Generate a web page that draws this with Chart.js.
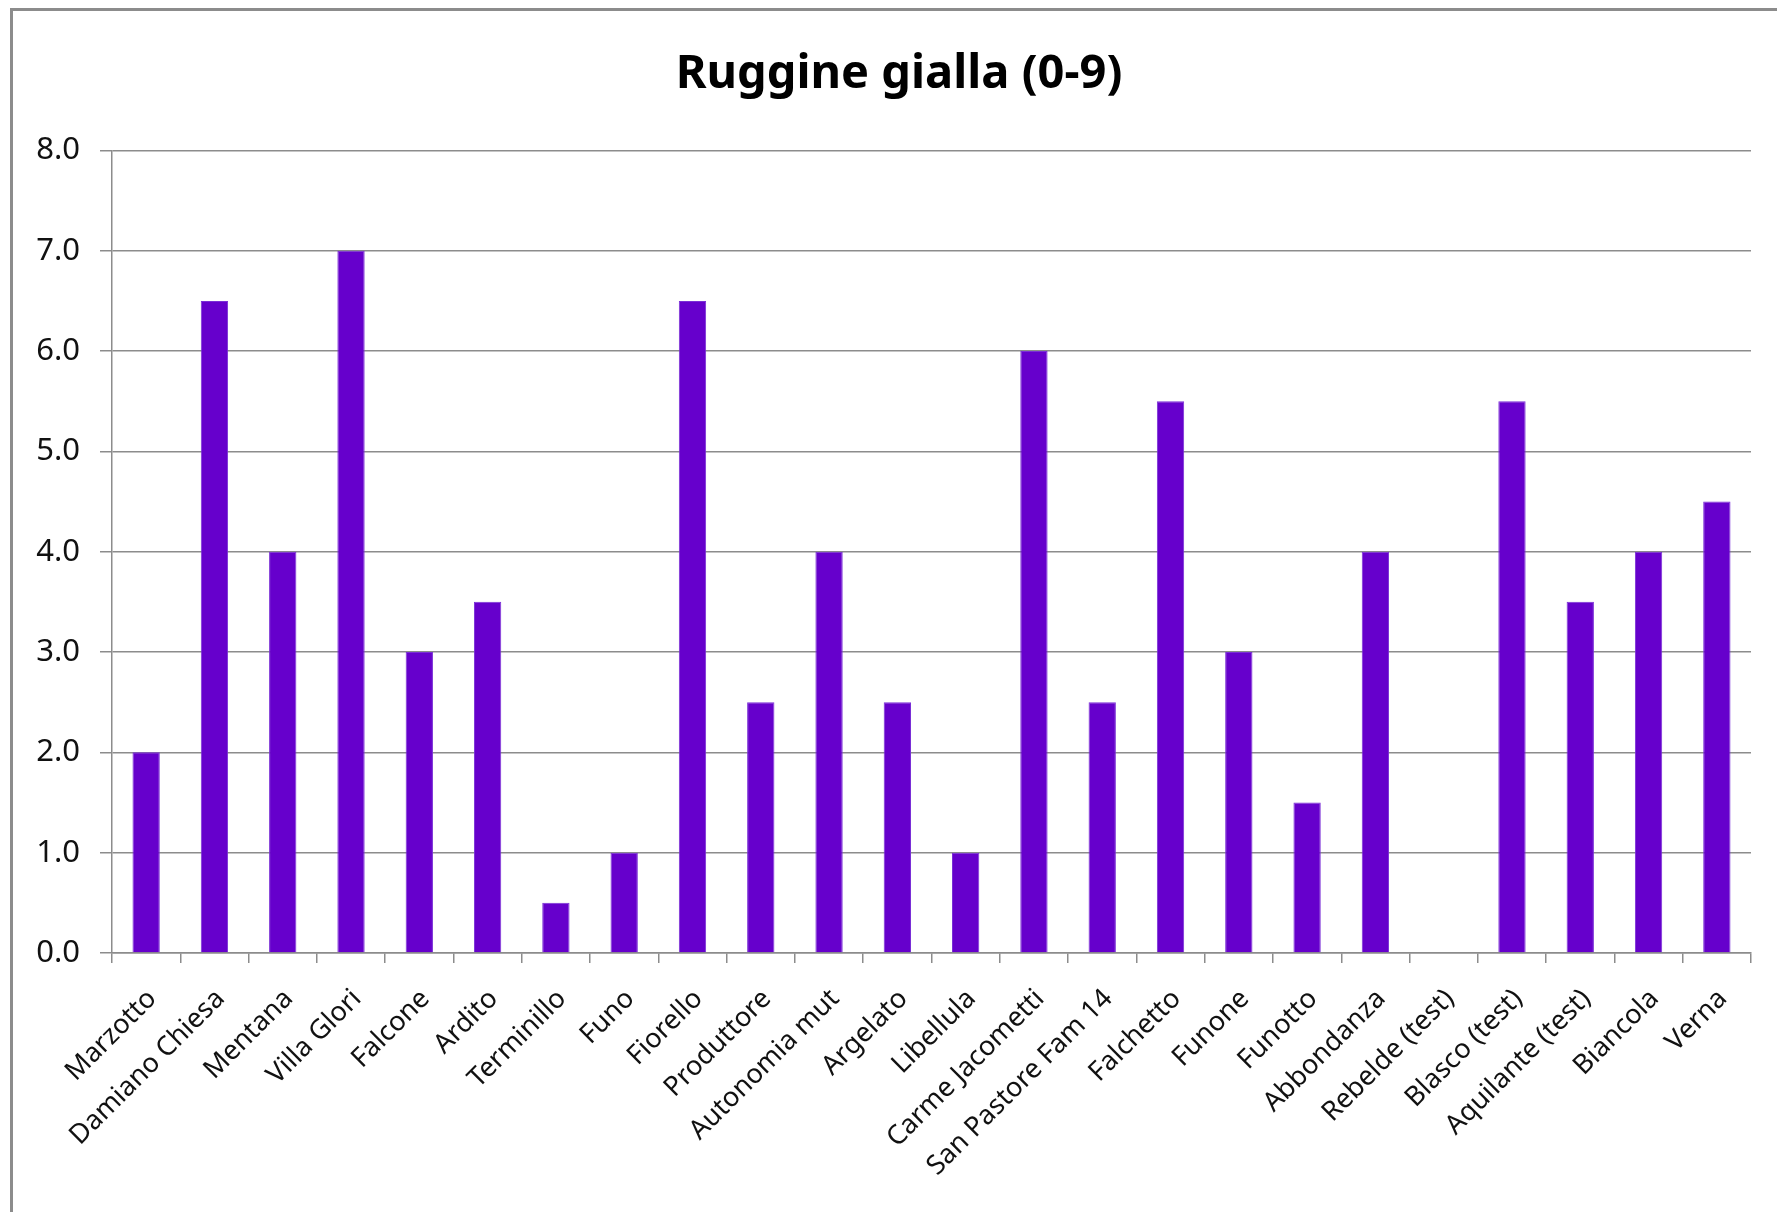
<!DOCTYPE html>
<html>
<head>
<meta charset="utf-8">
<script src="https://cdn.jsdelivr.net/npm/chart.js@4.4.0/dist/chart.umd.min.js"></script>
<style>
  html, body { margin: 0; padding: 0; background: #fff; overflow: hidden; }
  #frame { position: absolute; left: 10px; top: 8px; width: 1800px; height: 1300px; border: 3px solid #8c8c8c; }
  #wrap { position: absolute; left: 0; top: 0; width: 1777px; height: 1212px; }
</style>
</head>
<body>
<div id="frame"></div>
<div id="wrap"><canvas id="myChart" width="1777" height="1212"></canvas></div>
<script>
// categories (varieties)
const varieties = ['Marzotto', 'Damiano Chiesa', 'Mentana', 'Villa Glori', 'Falcone', 'Ardito',
  'Terminillo', 'Funo', 'Fiorello', 'Produttore', 'Autonomia mut', 'Argelato', 'Libellula',
  'Carme Jacometti', 'San Pastore Fam 14', 'Falchetto', 'Funone', 'Funotto', 'Abbondanza',
  'Rebelde (test)', 'Blasco (test)', 'Aquilante (test)', 'Biancola', 'Verna'];

// yellow rust score (0-9), Rebelde has no bar
const ruggine = [2, 6.5, 4, 7, 3, 3.5, 0.5, 1, 6.5, 2.5, 4, 2.5, 1, 6, 2.5, 5.5, 3, 1.5, 4, null, 5.5, 3.5, 4, 4.5];

const yTicks = [0, 1, 2, 3, 4, 5, 6, 7, 8];

const ctx = document.getElementById('myChart').getContext('2d');

new Chart(ctx, {
  type: 'bar',
  data: {
    labels: varieties,
    datasets: [{
      label: 'Ruggine gialla',
      data: ruggine,
      backgroundColor: '#6600cc',
      borderColor: '#7a2fd6',
      borderWidth: 1,
      barPercentage: 0.4,
      categoryPercentage: 1.0
    }]
  },
  options: {
    responsive: false,
    animation: false,
    layout: { padding: { left: 21, right: 0, top: 0, bottom: 0 } },
    plugins: {
      legend: { display: false },
      tooltip: { enabled: false },
      title: {
        display: true,
        text: 'Ruggine gialla (0-9)',
        color: '#000',
        font: { family: 'Noto Sans', size: 47, weight: 'bold' },
        padding: { top: 46, bottom: 48 }
      }
    },
    scales: {
      y: {
        min: yTicks[0],
        max: yTicks[yTicks.length - 1],
        afterBuildTicks: (scale) => { scale.ticks = yTicks.map(v => ({ value: v })); },
        afterFit: (scale) => { scale.width = 91; },
        ticks: {
          color: '#111',
          font: { family: 'Noto Sans', size: 31 },
          padding: 20,
          callback: (v) => Number(v).toFixed(1)
        },
        grid: { color: '#8c8c8c', lineWidth: 1.5, tickLength: 12 },
        border: { color: '#8c8c8c', width: 1.5 }
      },
      // empty spacer on the right
      y2: {
        position: 'right',
        afterFit: (scale) => { scale.width = 26; },
        ticks: { display: false },
        grid: { display: false },
        border: { display: false }
      },
      x: {
        offset: true,
        afterFit: (scale) => { scale.height = 259; },
        ticks: {
          color: '#111',
          font: { family: 'Noto Sans', size: 27 },
          minRotation: 45,
          maxRotation: 45,
          autoSkip: false,
          padding: 20,
          labelOffset: 6
        },
        grid: { offset: true, drawOnChartArea: false, color: '#8c8c8c', lineWidth: 1.5, tickLength: 10 },
        border: { color: '#8c8c8c', width: 1.5 }
      }
    }
  }
});
</script>
</body>
</html>
